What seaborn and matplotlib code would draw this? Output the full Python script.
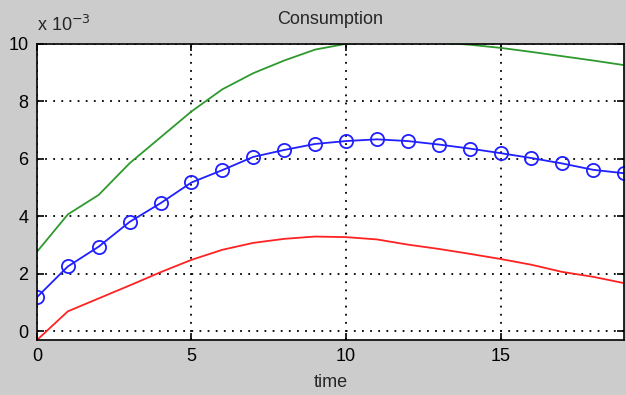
import numpy as np
import pandas as pd
import matplotlib
matplotlib.use("Agg")
import matplotlib.pyplot as plt
import seaborn as sns

# Consumption paths (units of 1e-3) over time
time = list(range(20))
mean_path = [1.19, 2.26, 2.95, 3.81, 4.46, 5.18, 5.61, 6.07, 6.31, 6.52,
             6.62, 6.68, 6.62, 6.50, 6.36, 6.20, 6.03, 5.84, 5.62, 5.50]
upper_band = [2.77, 4.07, 4.75, 5.85, 6.75, 7.65, 8.42, 8.98, 9.42, 9.80,
              10.00, 10.08, 10.10, 10.05, 9.97, 9.86, 9.72, 9.57, 9.42, 9.26]
lower_band = [-0.30, 0.70, 1.15, 1.60, 2.06, 2.49, 2.84, 3.08, 3.22, 3.30,
              3.28, 3.20, 3.02, 2.87, 2.70, 2.52, 2.32, 2.07, 1.90, 1.68]

x_ticks = [0, 5, 10, 15]
y_ticks = [0, 2, 4, 6, 8, 10]

df = pd.DataFrame({"time": time, "mean": mean_path,
                   "upper": upper_band, "lower": lower_band})

sns.set_style("white")
plt.rcParams["font.family"] = ["Liberation Sans", "DejaVu Sans"]

fig = plt.figure(figsize=(6.26, 3.95), dpi=100, facecolor="#cccccc")
ax = fig.add_axes([0.059, 0.139, 0.938, 0.750])
ax.set_facecolor("white")

sns.lineplot(data=df, x="time", y="upper", ax=ax, color="#2e9a2e", lw=1.3)
sns.lineplot(data=df, x="time", y="lower", ax=ax, color="#ff2222", lw=1.3)
sns.lineplot(data=df, x="time", y="mean", ax=ax, color="#1f1fff", lw=1.3,
             marker="o", markersize=9.5, markerfacecolor="none",
             markeredgecolor="#1f1fff", markeredgewidth=1.3)

ax.set_xlim(0, 19)
ax.set_ylim(-0.3, 10)
ax.set_xticks(x_ticks)
ax.set_yticks(y_ticks)
ax.set_xticklabels([str(v) for v in x_ticks])
ax.set_yticklabels([str(v) for v in y_ticks])

ax.grid(True, color="black", linestyle=(0, (1, 3.5)), linewidth=1.3)
for side in ax.spines.values():
    side.set_color("black")
    side.set_linewidth(1.2)
ax.tick_params(direction="in", length=5, width=1.2, colors="black",
               top=True, right=True, bottom=True, left=True,
               labelsize=13, pad=6)

ax.set_xlabel("time", fontsize=13, labelpad=6)
ax.set_ylabel("")
ax.set_title("Consumption", fontsize=13, pad=14)
fig.text(0.059, 0.912, r"x 10$^{-3}$", fontsize=13, ha="left", va="bottom")

fig.savefig("out.png", dpi=100, facecolor=fig.get_facecolor())
